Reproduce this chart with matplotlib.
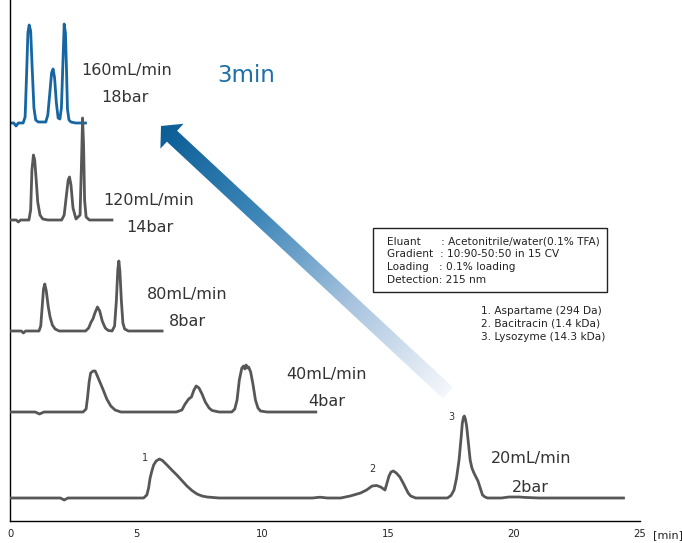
import numpy as np
import matplotlib
matplotlib.use("Agg")
import matplotlib.pyplot as plt
from matplotlib.patches import Polygon, Rectangle
from matplotlib.colors import LinearSegmentedColormap

plt.rcParams['font.family'] = ['DejaVu Sans']

# ---------------- data (time in min, signal above baseline) ----------------
t20 = [0, 2.0, 2.15, 2.3, 2.5, 5.3, 5.43, 5.5, 5.56, 5.63, 5.70, 5.8, 5.93, 6.05, 6.23, 6.42,
       6.62, 6.82, 7.02, 7.22, 7.42, 7.62, 7.82, 8.3, 12.0, 12.3, 12.6, 13.12, 13.5, 13.91,
       14.15, 14.37, 14.55, 14.71, 14.88, 14.96, 15.04, 15.12, 15.21, 15.33, 15.47, 15.58,
       15.70, 15.80, 15.90, 16.1, 17.36, 17.5, 17.62, 17.72, 17.82, 17.9, 17.95, 18.0, 18.03,
       18.07, 18.12, 18.19, 18.26, 18.33, 18.41, 18.49, 18.57, 18.66, 18.75, 18.85, 18.95,
       19.5, 19.8, 20.2, 20.5, 21.0, 24.4]
s20 = [0, 0, -2, 0, 0, 0, 3, 10, 20, 27, 33, 37, 39, 37.5, 33, 28, 23, 17.5, 12, 7.5, 4, 2, 1,
       0, 0, 0.8, 0, 0, 2, 5, 8, 12, 12.5, 11, 8, 15, 22, 26, 27, 25, 21, 16, 10, 5, 2, 0, 0,
       2.5, 8, 20, 38, 60, 75, 81, 82, 79, 72, 55, 38, 30, 25, 21, 17, 10, 3, 1, 0, 0, 1, 1,
       0.5, 0, 0]

t40 = [0, 1.0, 1.17, 1.35, 2.9, 3.02, 3.08, 3.14, 3.2, 3.3, 3.38, 3.45, 3.55, 3.7, 3.84, 4.0,
       4.17, 4.4, 6.6, 6.82, 6.95, 7.09, 7.2, 7.3, 7.39, 7.5, 7.62, 7.75, 7.9, 8.02, 8.3, 8.8,
       8.92, 9.01, 9.1, 9.2, 9.27, 9.32, 9.37, 9.42, 9.47, 9.55, 9.64, 9.74, 9.84, 9.94, 10.2,
       12.19]
s40 = [0, 0, -2, 0, 0, 3, 15, 30, 39, 41, 41, 37, 31, 22, 13, 6, 2, 0, 0, 2, 8, 13, 15, 22, 26,
       24, 18, 10, 4, 1.5, 0, 0, 3, 12, 32, 44, 46, 43, 47, 44, 45, 40, 28, 12, 4, 1, 0, 0]

t80 = [0, 0.45, 0.53, 0.62, 1.15, 1.22, 1.28, 1.33, 1.38, 1.44, 1.52, 1.59, 1.68, 1.79, 1.95,
       3.0, 3.12, 3.22, 3.29, 3.37, 3.47, 3.56, 3.66, 3.78, 3.9, 4.05, 4.15, 4.22, 4.28, 4.32,
       4.36, 4.42, 4.48, 4.55, 4.7, 6.09]
s80 = [0, 0, -2, 0, 0, 5, 25, 42, 47, 40, 24, 14, 6, 2, 0, 0, 3, 9, 12, 18, 24, 20, 10, 3, 0.5,
       0, 5, 30, 62, 70, 60, 30, 8, 2, 0, 0]

t120 = [0, 0.25, 0.33, 0.42, 0.75, 0.82, 0.87, 0.93, 0.98, 1.04, 1.1, 1.19, 1.3, 1.5, 2.05,
        2.15, 2.24, 2.31, 2.36, 2.42, 2.5, 2.62, 2.78, 2.84, 2.88, 2.92, 2.96, 3.02, 3.15, 4.1]
s120 = [0, 0, -2, 0, 0, 10, 50, 65, 60, 40, 18, 5, 1, 0, 0, 5, 25, 40, 43, 35, 12, 1, 5, 60,
        102, 75, 20, 3, 0, 0]

t160 = [0, 0.15, 0.24, 0.33, 0.52, 0.6, 0.66, 0.71, 0.76, 0.82, 0.88, 0.95, 1.02, 1.12, 1.42,
        1.5, 1.58, 1.65, 1.71, 1.77, 1.84, 1.91, 1.98, 2.04, 2.1, 2.15, 2.2, 2.24, 2.28, 2.34,
        2.42, 2.6, 3.05]
s160 = [0, 0, -3, 0, 0, 6, 50, 90, 98, 92, 55, 15, 3, 1, 1, 8, 30, 50, 54, 45, 20, 5, 4, 15,
        60, 99, 90, 55, 14, 3, 1, 0, 0]

flow_labels = ["20mL/min", "40mL/min", "80mL/min", "120mL/min", "160mL/min"]
pressure_labels = ["2bar", "4bar", "8bar", "14bar", "18bar"]
peak_labels = ["1", "2", "3"]
xticks = [0, 5, 10, 15, 20, 25]
info_lines = ["Eluant      : Acetonitrile/water(0.1% TFA)",
              "Gradient  : 10:90-50:50 in 15 CV",
              "Loading   : 0.1% loading",
              "Detection: 215 nm"]
compounds = ["1. Aspartame (294 Da)", "2. Bacitracin (1.4 kDa)", "3. Lysozyme (14.3 kDa)"]

# ---------------- layout / style ----------------
W, H = 682, 543
fig = plt.figure(figsize=(W / 100, H / 100), dpi=100)
ax_bottom_px = 521
ax = fig.add_axes([10 / W, 1 - ax_bottom_px / H, 630 / W, ax_bottom_px / H])
ax.set_xlim(0, 25)
ax.set_ylim(0, ax_bottom_px)

grey = '#575757'
blue = '#1566a2'
offsets = [23, 109, 190, 301, 398]
series = [(t20, s20), (t40, s40), (t80, s80), (t120, s120), (t160, s160)]
colors = [grey, grey, grey, grey, blue]
zord = [3, 3, 3, 4, 2]
for (tt, ss), off, c, z in zip(series, offsets, colors, zord):
    ax.plot(tt, np.array(ss) + off, color=c, lw=2.0, zorder=z, solid_joinstyle='round',
            solid_capstyle='butt')

# labels for flow/pressure
flow_pos = [(20.67, 62), (12.56, 146), (7.03, 226), (5.49, 321), (4.61, 450)]
pres_pos = [(20.63, 34), (12.55, 119), (7.05, 200), (5.55, 294), (4.57, 424)]
for lab, (x, y) in zip(flow_labels, flow_pos):
    ax.text(x, y, lab, ha='center', va='center', fontsize=11.5, color='#333333')
for lab, (x, y) in zip(pressure_labels, pres_pos):
    ax.text(x, y, lab, ha='center', va='center', fontsize=11.5, color='#333333')
ax.text(9.38, 445, "3min", ha='center', va='center', fontsize=16.5, color='#1f6fa8')

peak_pos = [(5.37, 63), (14.37, 52), (17.53, 104)]
for lab, (x, y) in zip(peak_labels, peak_pos):
    ax.text(x, y, lab, ha='center', va='center', fontsize=7, color='#333333')

for side in ['top', 'right']:
    ax.spines[side].set_visible(False)
ax.spines['left'].set_linewidth(1.0)
ax.spines['bottom'].set_linewidth(1.0)
ax.set_yticks([])
ax.set_xticks(xticks)
ax.set_xticklabels([str(v) for v in xticks], fontsize=8, color='#222222',
                   fontstretch='condensed')
ax.tick_params(axis='x', length=0, pad=6)
ax.text(1.045, -0.028, "[min]", transform=ax.transAxes, ha='center', va='center',
        fontsize=8, color='#222222')

# ---------------- overlay (pixel coordinates) ----------------
ov = fig.add_axes([0, 0, 1, 1])
ov.set_xlim(0, W)
ov.set_ylim(H, 0)
ov.axis('off')

tail = np.array([448.0, 393.0])
tip = np.array([161.0, 126.0])
u = (tip - tail) / np.linalg.norm(tip - tail)
n = np.array([-u[1], u[0]])
L = np.linalg.norm(tip - tail)
head_len, head_hw, shaft_hw = 15.0, 17.0, 7.5
base = tip - u * head_len
pts = [tail + n * shaft_hw, base + n * shaft_hw, base + n * head_hw, tip,
       base - n * head_hw, base - n * shaft_hw, tail - n * shaft_hw]
poly = Polygon(pts, closed=True, facecolor='none', edgecolor='none')
ov.add_patch(poly)
cmap = LinearSegmentedColormap.from_list('arr', ['#f4f7fb', '#a9c4df', '#3d86b8', '#0b5d96'])
xs = np.linspace(140, 470, 400)
ys = np.linspace(100, 420, 400)
XX, YY = np.meshgrid(xs, ys)
proj = ((XX - tail[0]) * u[0] + (YY - tail[1]) * u[1]) / L
im = ov.imshow(np.clip(proj, 0, 1), extent=[140, 470, 420, 100], cmap=cmap, vmin=0, vmax=1,
               origin='upper', aspect='auto', interpolation='bilinear', zorder=1)
im.set_clip_path(poly)
ov.set_xlim(0, W)
ov.set_ylim(H, 0)

# info box
ov.add_patch(Rectangle((373, 228), 234, 64, facecolor='white', edgecolor='#222222', lw=1.0,
                       zorder=2))
for i, line in enumerate(info_lines):
    ov.text(387, 241 + 13 * i, line, ha='left', va='center', fontsize=7.6, color='#222222',
            zorder=3)
for i, line in enumerate(compounds):
    ov.text(481, 311 + 13 * i, line, ha='left', va='center', fontsize=7.6, color='#222222',
            zorder=3)

fig.savefig("out.png", dpi=100)
